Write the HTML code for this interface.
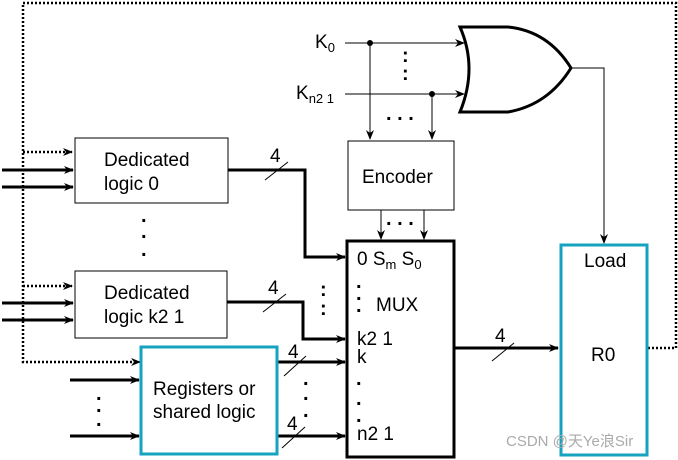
<!DOCTYPE html><html><head><style>body{margin:0;background:#fff}svg{display:block}text{font-family:"Liberation Sans",sans-serif;fill:#000}</style></head><body>
<svg width="678" height="460" viewBox="0 0 678 460">
<defs><marker id="a" markerWidth="10" markerHeight="8" refX="9" refY="4" orient="auto" markerUnits="userSpaceOnUse"><path d="M0,0 L10,4 L0,8 L3,4z" fill="#000"/></marker></defs>
<g fill="none" stroke="#000" stroke-dasharray="2,2" stroke-width="2.5">
<path d="M648,348 H676 V3 H23 V362 H138"/>
<path d="M23,152 H72" marker-end="url(#a)"/><path d="M23,286 H72" marker-end="url(#a)"/>
</g>
<path d="M138,362 h2" stroke="#000" stroke-width="2" marker-end="url(#a)"/>
<g fill="none" stroke="#000" stroke-width="3">
<path d="M2,170 H73" marker-end="url(#a)"/><path d="M2,187 H73" marker-end="url(#a)"/>
<path d="M2,303 H73" marker-end="url(#a)"/><path d="M2,320 H73" marker-end="url(#a)"/>
<path d="M70,380 H139" marker-end="url(#a)"/><path d="M70,436 H139" marker-end="url(#a)"/>
<path d="M228,170 H305 V257 H345" marker-end="url(#a)"/>
<path d="M227,302 H303 V339 H345" marker-end="url(#a)"/>
<path d="M277,362 H345" marker-end="url(#a)"/><path d="M277,436 H345" marker-end="url(#a)"/>
<path d="M454,348 H558" marker-end="url(#a)"/>
<rect x="347" y="241" width="107" height="216"/>
</g>
<g stroke="#000" stroke-width="1" fill="none">
<path d="M265,180 L288,162 M263,312 L286,294 M284,376 L306,356 M282,448 L305,427 M492,361 L514,343"/>
<rect x="75" y="138" width="153" height="65"/><rect x="75" y="271" width="152" height="67"/>
<rect x="348" y="141" width="106" height="69"/>
<path d="M345,43 H464" marker-end="url(#a)"/><path d="M345,94 H464" marker-end="url(#a)"/>
<path d="M370,43 V139" marker-end="url(#a)"/><path d="M432,94 V139" marker-end="url(#a)"/>
<path d="M381,210 V239" marker-end="url(#a)"/><path d="M424,210 V239" marker-end="url(#a)"/>
<path d="M571,68 H604 V243" marker-end="url(#a)"/>
</g>
<circle cx="370" cy="43" r="3"/><circle cx="432" cy="94" r="3"/>
<path d="M460,27 Q478,68 460,112 H508 Q548,105 571,68 Q548,31 508,27 Z" fill="none" stroke="#000" stroke-width="3"/>
<g fill="none" stroke="#16a3c0" stroke-width="3"><rect x="141" y="347" width="136" height="107"/><rect x="561" y="245" width="86" height="210"/></g>
<g font-size="19">
<text x="104" y="166">Dedicated</text><text x="104" y="190">logic 0</text>
<text x="104" y="299">Dedicated</text><text x="104" y="323">logic k2 1</text>
<text x="153" y="395">Registers or</text><text x="153" y="418">shared logic</text>
<text x="362" y="183">Encoder</text>
<text x="357" y="265">0 S<tspan font-size="13" dy="4">m</tspan><tspan dy="-4"> S</tspan><tspan font-size="13" dy="4">0</tspan></text>
<text x="376" y="311">MUX</text><text x="357" y="345">k2 1</text><text x="357" y="363">k</text><text x="357" y="440">n2 1</text>
<text x="584" y="267">Load</text><text x="591" y="361">R0</text>
<text x="315" y="48">K<tspan font-size="13" dy="4">0</tspan></text>
<text x="296" y="99">K<tspan font-size="13" dy="4">n2 1</tspan></text>
<text x="270" y="162">4</text><text x="268" y="294">4</text><text x="288" y="358">4</text><text x="287" y="430">4</text><text x="495" y="342">4</text>
</g>
<g font-size="20" font-weight="bold">
<text x="402" y="62">:</text><text x="402" y="80">:</text>
<text x="386" y="120">. . .</text><text x="386" y="225">. . .</text>
<text x="141" y="222">.</text><text x="141" y="238">.</text><text x="141" y="256">.</text>
<text x="320" y="296">:</text><text x="320" y="315">:</text>
<text x="356" y="288">.</text><text x="356" y="300">.</text><text x="356" y="312">.</text>
<text x="356" y="385">.</text><text x="356" y="405">.</text><text x="356" y="422">.</text>
<text x="303" y="385">.</text><text x="303" y="400">.</text><text x="303" y="417">.</text>
<text x="96" y="400">.</text><text x="96" y="412">.</text><text x="96" y="426">.</text>
</g>
<text x="506" y="446" font-size="15" style="fill:#aaa">CSDN @天Ye浪Sir</text>
</svg></body></html>
